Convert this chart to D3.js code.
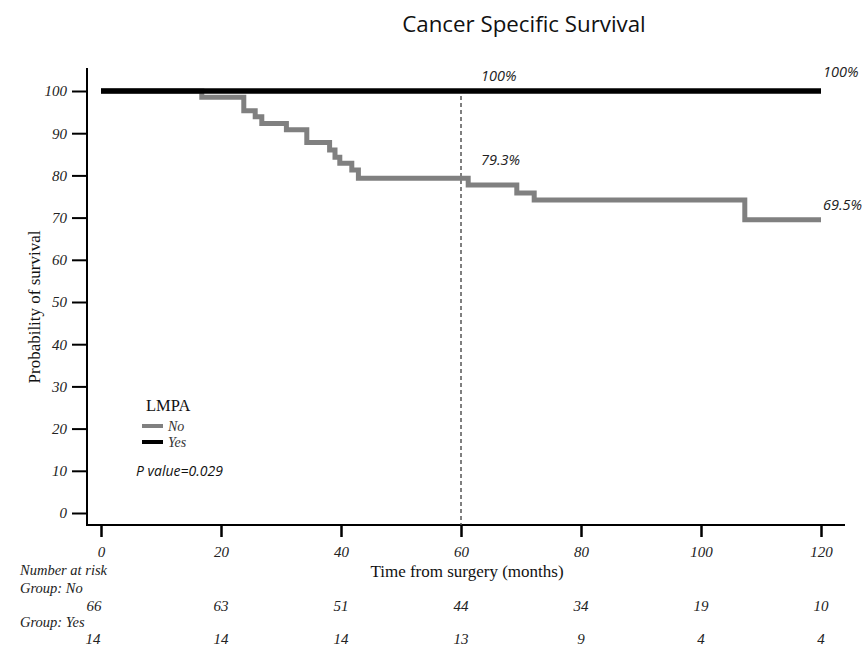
<!DOCTYPE html>
<html><head><meta charset="utf-8">
<script src="https://cdn.jsdelivr.net/npm/d3@7"></script>
<style>body{margin:0;background:#fff}</style>
</head><body>
<svg id="c" width="863" height="646"></svg>
<script>
// ---- data ----
const noTimes  = [0, 16.8, 23.8, 25.7, 26.8, 30.9, 34.3, 38.1, 39.0, 39.8, 41.8, 42.9, 61.2, 69.3, 72.2, 107.3, 120];
const noValues = [100, 98.5, 95.3, 93.9, 92.3, 90.8, 87.8, 86.0, 84.3, 82.9, 81.3, 79.3, 77.7, 75.8, 74.2, 69.5, 69.5];
const yesTimes  = [0, 120];
const yesValues = [100, 100];
const xTicks = [0, 20, 40, 60, 80, 100, 120];
const yTicks = [0, 10, 20, 30, 40, 50, 60, 70, 80, 90, 100];
const riskNo  = [66, 63, 51, 44, 34, 19, 10];
const riskYes = [14, 14, 14, 13, 9, 4, 4];
const landmark = 60;
const annotations = [
  {t: 60, v: 100, text: "100%"},
  {t: 120, v: 100, text: "100%"},
  {t: 60, v: 79.3, text: "79.3%"},
  {t: 120, v: 69.5, text: "69.5%"}
];
const legendItems = [{label: "No", color: "#808080"}, {label: "Yes", color: "#000"}];

// ---- layout ----
const svg = d3.select("#c");
const x = d3.scaleLinear().domain([0, 120]).range([101, 821]);
const y = d3.scaleLinear().domain([0, 100]).range([513, 91]);
const axisX = 87, axisY = 525;
const serif = "'Liberation Serif','Times New Roman',serif";
const sans = "'Open Sans',Lato,sans-serif";

// title
svg.append("text").attr("x", 524).attr("y", 32).attr("text-anchor", "middle")
  .attr("font-family", sans).attr("font-size", 22.3).attr("fill", "#111")
  .text("Cancer Specific Survival");

// axis lines
svg.append("line").attr("x1", axisX).attr("x2", axisX).attr("y1", 68).attr("y2", axisY + 1)
  .attr("stroke", "#000").attr("stroke-width", 2);
svg.append("line").attr("x1", axisX - 1).attr("x2", 845).attr("y1", axisY).attr("y2", axisY)
  .attr("stroke", "#000").attr("stroke-width", 2);

// y axis
const gy = svg.append("g").attr("transform", `translate(${axisX - 1},0)`)
  .call(d3.axisLeft(y).tickValues(yTicks).tickSize(14).tickPadding(5));
gy.select(".domain").remove();
gy.selectAll(".tick line").attr("stroke", "#000").attr("stroke-width", 2);
gy.selectAll(".tick text").attr("font-family", serif).attr("font-style", "italic")
  .attr("font-size", 15).attr("fill", "#222");

// x axis
const gx = svg.append("g").attr("transform", `translate(0,${axisY})`)
  .call(d3.axisBottom(x).tickValues(xTicks).tickSize(12).tickPadding(9));
gx.select(".domain").remove();
gx.selectAll(".tick line").attr("stroke", "#000").attr("stroke-width", 2.5);
gx.selectAll(".tick text").attr("font-family", serif).attr("font-style", "italic")
  .attr("font-size", 15).attr("fill", "#222");

// axis titles
svg.append("text").attr("transform", `translate(40,307) rotate(-90)`)
  .attr("text-anchor", "middle").attr("font-family", serif).attr("font-size", 17).attr("fill", "#111")
  .text("Probability of survival");
svg.append("text").attr("x", 467).attr("y", 577).attr("text-anchor", "middle")
  .attr("font-family", serif).attr("font-size", 17).attr("fill", "#111")
  .text("Time from surgery (months)");

// landmark dashed line
svg.append("line").attr("x1", x(landmark)).attr("x2", x(landmark))
  .attr("y1", y(100) + 5).attr("y2", axisY)
  .attr("stroke", "#555").attr("stroke-width", 1.5).attr("stroke-dasharray", "4,3");

// curves
const line = d3.line().x(d => x(d[0])).y(d => y(d[1])).curve(d3.curveStepAfter);
svg.append("path").attr("d", line(noTimes.map((t, i) => [t, noValues[i]])))
  .attr("fill", "none").attr("stroke", "#808080").attr("stroke-width", 5)
  .attr("stroke-linejoin", "miter");
svg.append("path").attr("d", line(yesTimes.map((t, i) => [t, yesValues[i]])))
  .attr("fill", "none").attr("stroke", "#000").attr("stroke-width", 5.5);

// annotations
svg.selectAll("text.ann").data(annotations).join("text").attr("class", "ann")
  .attr("x", d => x(d.t) + 20 - (d.t === 120 ? 18 : 0))
  .attr("y", d => y(d.v) - (d.t === 120 ? (d.v === 100 ? 14 : 10) : (d.v === 100 ? 10 : 13)))
  .attr("font-family", sans).attr("font-style", "italic").attr("font-size", 14.5).attr("fill", "#222")
  .text(d => d.text);

// legend
svg.append("text").attr("x", 146).attr("y", 411).attr("font-family", serif).attr("font-size", 16.5)
  .attr("fill", "#111").text("LMPA");
const lg = svg.selectAll("g.leg").data(legendItems).join("g").attr("class", "leg")
  .attr("transform", (d, i) => `translate(142,${426 + i * 16})`);
lg.append("line").attr("x1", 0).attr("x2", 21).attr("stroke", d => d.color).attr("stroke-width", 4);
lg.append("text").attr("x", 26).attr("y", 5).attr("font-family", serif).attr("font-style", "italic")
  .attr("font-size", 14).attr("fill", "#333").text(d => d.label);

svg.append("text").attr("x", 136).attr("y", 476).attr("font-family", sans).attr("font-style", "italic")
  .attr("font-size", 14).attr("fill", "#111").text("P value=0.029");

// risk table
const rt = svg.append("g").attr("font-family", serif).attr("font-style", "italic")
  .attr("font-size", 14.5).attr("fill", "#222");
rt.append("text").attr("x", 20).attr("y", 575).text("Number at risk");
rt.append("text").attr("x", 20).attr("y", 593).text("Group: No");
rt.append("text").attr("x", 20).attr("y", 627).text("Group: Yes");
rt.selectAll("text.rn").data(riskNo).join("text").attr("class", "rn").attr("font-size", 15)
  .attr("x", (d, i) => x(xTicks[i]) - (i === 0 ? 7 : 0)).attr("y", 611).attr("text-anchor", "middle").text(d => d);
rt.selectAll("text.ry").data(riskYes).join("text").attr("class", "ry").attr("font-size", 15)
  .attr("x", (d, i) => x(xTicks[i]) - (i === 0 ? 8 : 0)).attr("y", 644).attr("text-anchor", "middle").text(d => d);
</script>
</body></html>
